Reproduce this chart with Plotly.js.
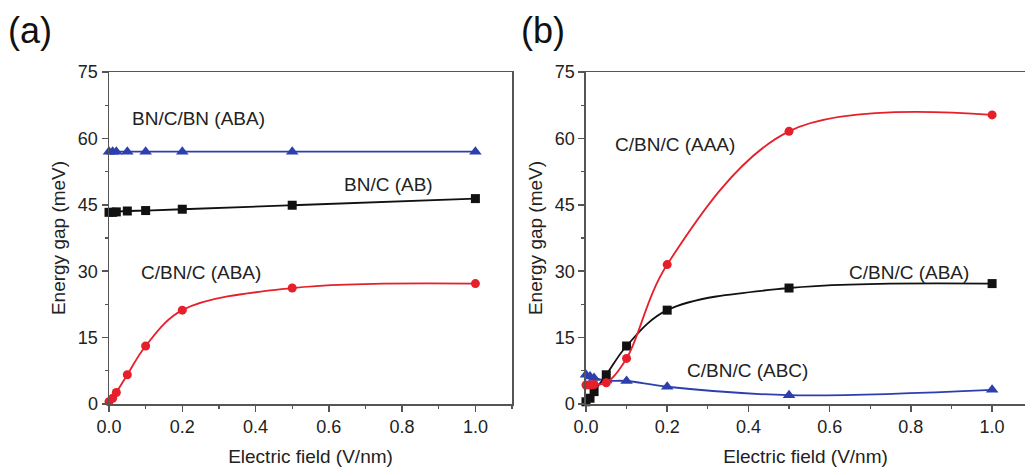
<!DOCTYPE html>
<html>
<head>
<meta charset="utf-8">
<script src="https://cdn.plot.ly/plotly-3.0.1.min.js"></script>
<style>html,body{margin:0;padding:0;background:#fff;}#chart{width:1025px;height:470px;}</style>
</head>
<body>
<div id="chart"></div>
<script>
// Electric field values (V/nm)
const field = [0, 0.01, 0.02, 0.05, 0.1, 0.2, 0.5, 1.0];

// Panel (a)
const a_BNCBN_ABA = [57.0, 57.0, 57.0, 57.0, 57.0, 57.0, 57.0, 57.0];
const a_BNC_AB    = [43.3, 43.3, 43.4, 43.6, 43.7, 44.0, 44.9, 46.4];
const a_CBNC_ABA  = [0.5, 1.3, 2.6, 6.6, 13.1, 21.2, 26.2, 27.2];

// Panel (b)
const b_CBNC_AAA  = [4.3, 4.3, 4.4, 4.8, 10.3, 31.5, 61.6, 65.3];
const b_CBNC_ABA  = [0.5, 1.3, 2.8, 6.6, 13.1, 21.2, 26.2, 27.2];
const b_CBNC_ABC  = [6.6, 6.2, 5.9, 5.3, 5.2, 3.9, 2.0, 3.2];

const RED = '#e5202b', BLACK = '#111111', BLUE = '#2d3fae';
const FONT = 'Liberation Sans, Arial, sans-serif';

function tr(x, y, color, symbol, size, xa, ya) {
  return {
    x: x, y: y, xaxis: xa, yaxis: ya, type: 'scatter', mode: 'lines+markers',
    line: {color: color, width: 1.8, shape: 'spline', smoothing: 1.0},
    marker: {color: color, symbol: symbol, size: size},
    cliponaxis: false, showlegend: false, hoverinfo: 'skip'
  };
}

const data = [
  tr(field, a_BNCBN_ABA, BLUE, 'triangle-up', 11, 'x', 'y'),
  tr(field, a_BNC_AB, BLACK, 'square', 9, 'x', 'y'),
  tr(field, a_CBNC_ABA, RED, 'circle', 9, 'x', 'y'),
  tr(field, b_CBNC_ABC, BLUE, 'triangle-up', 11, 'x2', 'y2'),
  tr(field, b_CBNC_ABA, BLACK, 'square', 9, 'x2', 'y2'),
  tr(field, b_CBNC_AAA, RED, 'circle', 9, 'x2', 'y2')
];

const axisCommon = {
  showgrid: false, zeroline: false, showline: true, linecolor: '#555', linewidth: 1.5,
  ticks: 'outside', ticklen: 6, tickwidth: 1.5, tickcolor: '#555',
  tickfont: {family: FONT, size: 18, color: '#222'}
};

function xax(domain, range, anchor, mirror) {
  return Object.assign({}, axisCommon, {
    domain: domain, range: range, anchor: anchor, mirror: mirror,
    tickmode: 'linear', tick0: 0, dtick: 0.2, tickformat: '.1f',
    minor: {ticks: 'outside', ticklen: 3, dtick: 0.1, tickcolor: '#555', tickwidth: 1.2},
    title: {text: 'Electric field (V/nm)', font: {family: FONT, size: 19, color: '#222'}, standoff: 13}
  });
}
function yax(anchor, mirror) {
  return Object.assign({}, axisCommon, {
    range: [0, 75], anchor: anchor, mirror: mirror,
    tickmode: 'linear', tick0: 0, dtick: 15,
    minor: {ticks: 'outside', ticklen: 3, dtick: 7.5, tickcolor: '#555', tickwidth: 1.2},
    title: {text: 'Energy gap (meV)', font: {family: FONT, size: 19, color: '#222'}, standoff: 7}
  });
}

function ann(text, x, y, xref, yref) {
  return {text: text, x: x, y: y, xref: xref, yref: yref, xanchor: 'left', yanchor: 'middle',
          showarrow: false, font: {family: FONT, size: 19, color: '#222'}};
}

const layout = {
  width: 1025, height: 470,
  margin: {l: 109, r: 0, t: 72, b: 66},
  paper_bgcolor: '#fff', plot_bgcolor: '#fff',
  xaxis: xax([0, 0.44], [0, 1.1], 'y', true),
  yaxis: yax('x', true),
  xaxis2: xax([0.5207, 1], [0, 1.081], 'y2', true),
  yaxis2: yax('x2', false),
  annotations: [
    ann('BN/C/BN (ABA)', 0.058, 64.4, 'x', 'y'),
    ann('BN/C (AB)', 0.636, 49.5, 'x', 'y'),
    ann('C/BN/C (ABA)', 0.082, 29.6, 'x', 'y'),
    ann('C/BN/C (AAA)', 0.067, 58.7, 'x2', 'y2'),
    ann('C/BN/C (ABA)', 0.643, 29.6, 'x2', 'y2'),
    ann('C/BN/C (ABC)', 0.244, 7.5, 'x2', 'y2'),
    {text: '(a)', x: -0.0862, y: 1.1265, xref: 'paper', yref: 'paper', xanchor: 'center', yanchor: 'middle',
     showarrow: false, font: {family: FONT, size: 36, color: '#111'}},
    {text: '(b)', x: 0.4738, y: 1.1265, xref: 'paper', yref: 'paper', xanchor: 'center', yanchor: 'middle',
     showarrow: false, font: {family: FONT, size: 36, color: '#111'}}
  ]
};

Plotly.newPlot('chart', data, layout, {staticPlot: true, displayModeBar: false});
</script>
</body>
</html>
